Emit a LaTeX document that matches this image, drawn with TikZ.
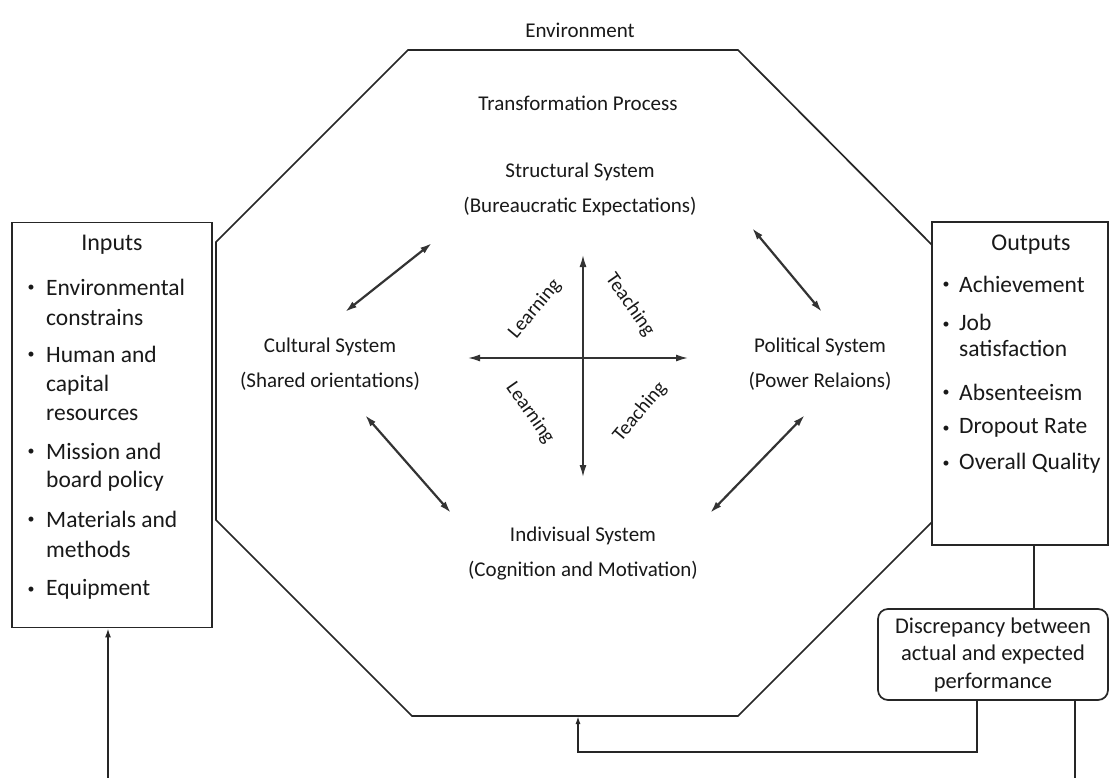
\documentclass[tikz,border=0pt]{standalone}
\usepackage{fontspec}
\setmainfont{Carlito}
\usetikzlibrary{arrows.meta}
\begin{document}
\begin{tikzpicture}[x=1pt,y=-1pt,
  every node/.style={text=black!90, inner sep=0pt},
  ctxt/.style={font=\fontsize{21}{25}\selectfont},
  head/.style={font=\fontsize{24}{28}\selectfont},
  itm/.style={font=\fontsize{23.5}{28}\selectfont, anchor=west},
  bul/.style={font=\fontsize{14}{16}\selectfont},
  lbl/.style={font=\fontsize{20}{24}\selectfont},
  frame/.style={draw=black!85, line width=1.7pt},
  dbl/.style={line width=2.2pt, draw=black!80, {Latex[length=12pt,width=7pt]}-{Latex[length=12pt,width=7pt]}},
  fb/.style={line width=1.7pt, draw=black!85},
]
\useasboundingbox (0,0) rectangle (1110,778);
\fill[white] (0,0) rectangle (1110,778);

% octagon (environment boundary)
\draw[frame] (408,50) -- (738,50) -- (932,245) -- (932,522) -- (738,716)
  -- (412,716) -- (216,520) -- (216,242) -- cycle;
\coordinate (octb) at (578,716);

% titles
\node[ctxt] (env) at (580,30) {Environment};
\node[ctxt] (tp) at (578,103) {Transformation Process};

% systems
\node[ctxt] (struct) at (580,172) {Structural System};
\node[ctxt] (structb) at (580,207) {(Bureaucratic Expectations)};
\node[ctxt] (cult) at (330,347) {Cultural System};
\node[ctxt] (cultb) at (330,381) {(Shared orientations)};
\node[ctxt] (pol) at (820,347) {Political System};
\node[ctxt] (polb) at (820,381) {(Power Relaions)};
\node[ctxt] (indiv) at (583,536) {Indivisual System};
\node[ctxt] (indivb) at (583,571) {(Cognition and Motivation)};

% arrow end points
\coordinate (ula) at (345,312); \coordinate (ulb) at (432,243);
\coordinate (ura) at (752,228); \coordinate (urb) at (822,312);
\coordinate (lla) at (365,415); \coordinate (llb) at (451,513);
\coordinate (lra) at (805,415); \coordinate (lrb) at (710,513);
\coordinate (vt) at (583,255); \coordinate (vb) at (583,477);
\coordinate (hl) at (468,358); \coordinate (hr) at (688,358);

\draw[dbl] (ula) -- (ulb);
\draw[dbl] (ura) -- (urb);
\draw[dbl] (lla) -- (llb);
\draw[dbl] (lra) -- (lrb);
\draw[dbl, line width=1.6pt] (vt) -- (vb);
\draw[dbl, line width=1.6pt] (hl) -- (hr);

\node[lbl, rotate=50] (l1) at (535,309) {Learning};
\node[lbl, rotate=-55] (t1) at (630,305) {Teaching};
\node[lbl, rotate=-55] (l2) at (530,413) {Learning};
\node[lbl, rotate=50] (t2) at (640,412) {Teaching};

% inputs box
\node[frame, minimum width=200pt, minimum height=405pt] (inbox) at (112,425) {};
\node[head] (inh) at (112,245) {Inputs};
\foreach \y/\n in {287/a,354/b,451/c,519/d,589/e} \node[bul] (ib\n) at (31,\y+1) {\textbullet};
\node[itm] (i1) at (46,287) {Environmental};
\node[itm] (i2) at (46,318) {constrains};
\node[itm] (i3) at (46,354) {Human and};
\node[itm] (i4) at (46,385) {capital};
\node[itm] (i5) at (46,415) {resources};
\node[itm] (i6) at (46,451) {Mission and};
\node[itm] (i7) at (46,481) {board policy};
\node[itm] (i8) at (46,519) {Materials and};
\node[itm] (i9) at (46,549) {methods};
\node[itm] (i10) at (46,589) {Equipment};

% outputs box
\node[frame, minimum width=176pt, minimum height=323pt] (outbox) at (1020,383.5) {};
\node[head] (outh) at (1031,245) {Outputs};
\foreach \y/\n in {284/a,324/b,392/c,428/d,463/e} \node[bul] (ob\n) at (946,\y+1) {\textbullet};
\node[itm] (o1) at (959,284) {Achievement};
\node[itm] (o2) at (959,322) {Job};
\node[itm] (o3) at (959,348) {satisfaction};
\node[itm] (o4) at (959,392) {Absenteeism};
\node[itm] (o5) at (959,428) {Dropout Rate};
\node[itm] (o6) at (959,463) {Overall Quality};

% discrepancy box
\node[frame, rounded corners=10pt, minimum width=230pt, minimum height=91pt,
  align=center, font=\fontsize{22.5}{27.5}\selectfont] (disc) at (993,654.5)
  {Discrepancy between\\actual and expected\\performance};

% feedback connectors
\draw[fb] (outbox.south -| 1034,0) -- (disc.north -| 1034,0);
\draw[fb, -{Latex[length=8pt,width=5pt]}] (disc.south -| 977,0) |- (578,752) -- (octb);
\draw[fb, -{Latex[length=9pt,width=6pt]}] (disc.south -| 1075,0) -- (1075,800) -| (inbox.south -| 108,0);
\end{tikzpicture}
\end{document}
